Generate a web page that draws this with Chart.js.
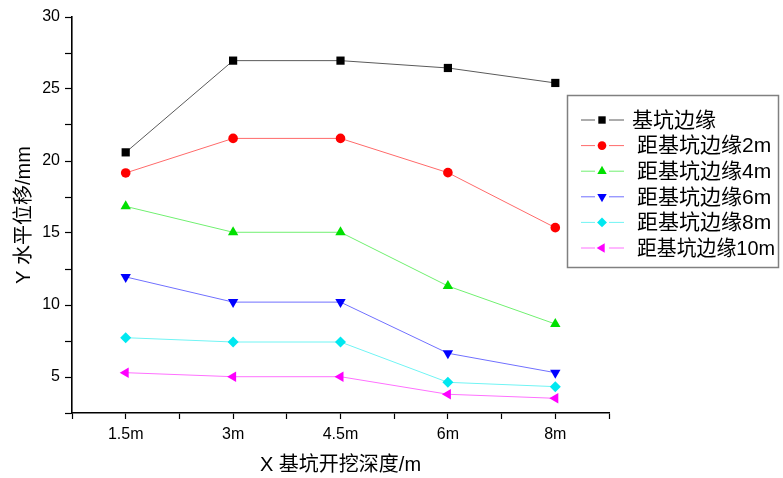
<!DOCTYPE html>
<html lang="zh">
<head>
<meta charset="UTF-8">
<title>基坑水平位移</title>
<script src="https://cdn.jsdelivr.net/npm/chart.js"></script>
<style>
  html, body { margin: 0; padding: 0; background: #fff; }
</style>
</head>
<body>
<canvas id="dispChart" width="783" height="478"></canvas>
<script>
// excavation depths (x categories)
const depths = ['1.5m', '3m', '4.5m', '6m', '8m'];
const seriesNames = ['基坑边缘', '距基坑边缘2m', '距基坑边缘4m', '距基坑边缘6m', '距基坑边缘8m', '距基坑边缘10m'];

// horizontal displacement, mm
const edge0 = [20.6, 26.97, 26.97, 26.46, 25.42];
const edge2 = [19.17, 21.57, 21.57, 19.19, 15.37];
const edge4 = [16.85, 15.05, 15.05, 11.32, 8.68];
const edge6 = [11.95, 10.2, 10.2, 6.65, 5.3];
const edge8 = [7.73, 7.43, 7.43, 4.63, 4.33];
const edge10 = [5.3, 5.02, 5.02, 3.8, 3.52];

const yTickMarks = [2.5, 5, 7.5, 10, 12.5, 15, 17.5, 20, 22.5, 25, 27.5, 30];
const yTickLabels = [5, 10, 15, 20, 25, 30];

const FONT = '"Liberation Sans", "Noto Sans CJK SC", sans-serif';

function series(label, values, lineColor, markColor, style, rotation, radius) {
    return {
        label: label,
        data: values.map((v, i) => ({ x: i, y: v })),
        borderColor: lineColor,
        borderWidth: 1,
        pointStyle: style,
        rotation: rotation,
        pointRadius: radius,
        pointBackgroundColor: markColor,
        pointBorderColor: markColor,
        pointBorderWidth: 0,
        markColor: markColor
    };
}

// boxed legend inside the plot, like the original
const boxLegend = {
    id: 'boxLegend',
    afterDraw(chart) {
        const ctx = chart.ctx;
        ctx.save();
        ctx.strokeStyle = '#808080';
        ctx.lineWidth = 1.5;
        ctx.strokeRect(567.5, 95.5, 211, 172);
        ctx.font = '21px ' + FONT;
        ctx.textBaseline = 'middle';
        chart.data.datasets.forEach((ds, i) => {
            const y = 120 + i * 25.6;
            ctx.strokeStyle = ds.borderColor;
            ctx.lineWidth = 1;
            ctx.beginPath();
            ctx.moveTo(581, y); ctx.lineTo(595, y);
            ctx.moveTo(609, y); ctx.lineTo(624, y);
            ctx.stroke();
            ctx.fillStyle = ds.markColor;
            Chart.helpers.drawPoint(ctx, {
                pointStyle: ds.pointStyle, rotation: ds.rotation,
                radius: ds.pointRadius * 0.9, borderWidth: 0
            }, 602, y);
            ctx.fillStyle = '#000';
            const x0 = i === 0 ? 632 : 637;
            ctx.fillText(ds.label, x0, y + 1, 775 - x0);
        });
        ctx.restore();
    }
};

new Chart(document.getElementById('dispChart'), {
    type: 'line',
    data: {
        datasets: [
            series(seriesNames[0], edge0, '#5a5a5a', '#000000', 'rect', 0, 5.8),
            series(seriesNames[1], edge2, '#ff6a6a', '#ff0000', 'circle', 0, 4.8),
            series(seriesNames[2], edge4, '#70f070', '#00e000', 'triangle', 0, 6),
            series(seriesNames[3], edge6, '#7070ff', '#0000ff', 'triangle', 180, 6),
            series(seriesNames[4], edge8, '#70f4f4', '#00e8f0', 'rectRot', 0, 5.5),
            series(seriesNames[5], edge10, '#ff70ff', '#ff00ff', 'triangle', 270, 6)
        ]
    },
    options: {
        responsive: false,
        animation: false,
        layout: { padding: { left: 4, top: 17, right: 174, bottom: 0 } },
        plugins: {
            legend: { display: false },
            tooltip: { enabled: false }
        },
        scales: {
            x: {
                type: 'linear',
                min: -0.5,
                max: 4.5,
                afterFit: s => { s.height = 65; },
                ticks: {
                    stepSize: 0.5,
                    autoSkip: false,
                    maxRotation: 0,
                    padding: 6,
                    color: '#000',
                    font: { family: FONT, size: 16 },
                    callback: v => Number.isInteger(v) ? depths[v] : ''
                },
                grid: { drawOnChartArea: false, tickLength: 6, color: '#000', tickWidth: 1.2 },
                border: { color: '#000', width: 1.6 },
                title: {
                    display: true,
                    text: 'X 基坑开挖深度/m',
                    color: '#000',
                    font: { family: FONT, size: 20 },
                    padding: { top: 0, bottom: 1 }
                }
            },
            y: {
                min: 2.5,
                max: 30,
                afterFit: s => { s.width = 68; },
                afterBuildTicks: s => { s.ticks = yTickMarks.map(v => ({ value: v })); },
                ticks: {
                    padding: 5,
                    color: '#000',
                    font: { family: FONT, size: 16 },
                    callback: v => yTickLabels.includes(v) ? v : ''
                },
                grid: { drawOnChartArea: false, tickLength: 7, color: '#000', tickWidth: 1.2 },
                border: { color: '#000', width: 1.6 },
                title: {
                    display: true,
                    text: 'Y 水平位移/mm',
                    color: '#000',
                    font: { family: FONT, size: 20 },
                    padding: { top: 8, bottom: 0 }
                }
            }
        }
    },
    plugins: [boxLegend]
});
</script>
</body>
</html>
